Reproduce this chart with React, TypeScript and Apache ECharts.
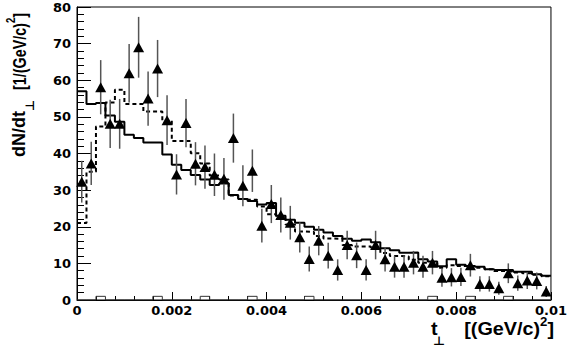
import React, { useEffect, useRef } from "react";
import * as echarts from "echarts";

const BIN_WIDTH = 0.0002;
const X_MIN = 0;
const X_MAX = 0.01;
const Y_MIN = 0;
const Y_MAX = 80;
const X_TICK_LABELS = ["0", "0.002", "0.004", "0.006", "0.008", "0.01"];

// measured points (triangles), one per bin of width 0.0002
const dataValues = [
  32.3, 37.3, 58.1, 48.1, 48.1, 61.9, 69.0, 55.0, 63.2, 49.1,
  34.3, 48.3, 37.2, 36.3, 34.2, 33.1, 44.2, 31.2, 35.3, 20.3,
  26.2, 23.2, 21.1, 17.1, 11.2, 16.2, 12.1, 8.2, 15.0, 12.2,
  8.2, 15.0, 11.1, 9.1, 9.1, 10.2, 9.1, 10.2, 6.1, 6.2,
  6.3, 9.5, 4.4, 4.4, 3.2, 7.3, 4.6, 5.3, 5.2, 2.3,
];
const dataErrors = [
  5.7, 5.9, 7.4, 6.6, 6.8, 8.0, 8.3, 7.4, 7.8, 6.8,
  5.5, 6.6, 5.9, 5.9, 5.8, 5.7, 6.7, 5.6, 5.8, 4.6,
  5.2, 4.8, 4.6, 4.1, 3.4, 4.0, 3.5, 2.9, 3.9, 3.5,
  2.9, 3.9, 3.3, 3.0, 3.0, 3.2, 3.0, 3.2, 2.5, 2.5,
  2.5, 3.1, 2.1, 2.1, 1.8, 2.7, 2.1, 2.3, 2.3, 1.5,
];
// solid histogram
const solidHist = [
  57.0, 53.5, 53.8, 50.4, 48.7, 45.1, 44.2, 43.0, 43.0, 39.7,
  36.9, 35.5, 34.1, 32.9, 31.4, 31.8, 28.7, 27.6, 27.0, 26.1,
  26.5, 23.0, 21.9, 21.1, 20.0, 19.2, 18.4, 17.5, 16.7, 16.2,
  16.5, 15.8, 14.1, 13.6, 12.9, 13.0, 11.1, 10.5, 9.2, 11.1,
  9.6, 9.3, 9.1, 8.4, 8.2, 8.2, 7.7, 7.7, 7.0, 6.6,
];
// dashed histogram
const dashedHist = [
  21.0, 35.0, 47.4, 53.9, 57.4, 53.5, 53.5, 51.5, 51.5, 49.0,
  43.4, 43.4, 40.1, 37.3, 34.0, 32.9, 28.5, 27.6, 27.4, 25.5,
  23.4, 22.1, 20.6, 18.7, 18.6, 17.5, 16.8, 16.7, 15.0, 14.6,
  14.6, 14.0, 12.8, 12.0, 11.9, 11.0, 10.2, 10.1, 8.8, 9.5,
  9.3, 9.2, 8.8, 8.4, 7.9, 7.8, 7.5, 7.3, 6.9, 6.5,
];
// small open-box histogram along the baseline
const smallHist = [
  0, 0, 1, 0, 0, 0, 0, 0, 1, 0,
  0, 0, 0, 1, 0, 0, 0, 0, 1, 0,
  0, 0, 0, 0, 1, 0, 0, 0, 0, 0,
  0, 0, 0, 0, 0, 0, 0, 1, 0, 0,
  0, 1, 0, 0, 0, 1, 0, 0, 0, 0,
];

const FONT = '"Liberation Sans", Arial, "DejaVu Sans", sans-serif';
const TICK_FONT = '"DejaVu Sans", sans-serif';

function stepData(vals: number[]) {
  const pts: number[][] = vals.map((v, i) => [i * BIN_WIDTH, v]);
  pts.push([vals.length * BIN_WIDTH, vals[vals.length - 1]]);
  return pts;
}

export default function App() {
  const ref = useRef<HTMLDivElement>(null);
  useEffect(() => {
    if (!ref.current) return;
    const chart = echarts.init(ref.current, null, { renderer: "svg" });
    const canvas = document.createElement("canvas");
    const ctx = canvas.getContext("2d")!;
    const tw = (t: string, s: number) => {
      ctx.font = `bold ${s}px "Liberation Sans"`;
      return ctx.measureText(t).width;
    };
    const TS = 18;
    const SS = 12;
    const SX = 1.1;
    const base = { fontFamily: FONT, fontWeight: "bold", fill: "#000", verticalAlign: "middle" };
    const rot = Math.PI / 2;

    const xr = 554;
    const xm = 329;
    const wBr = tw("]", TS) * SX;
    const w2 = tw("2", SS) * SX;

    // y title: bracket part spans from yTop down to yBracketEnd
    const yTop = 13;
    const yBracketEnd = 90;
    const wBrY = tw("]", TS);
    const w2Y = tw("2", SS);
    const wUnitY = tw("[1/(GeV/c)", TS);
    const sY = (yBracketEnd - yTop) / (wBrY + w2Y + wUnitY);
    const wdN = tw("dN/dt", TS);

    const graphics: any[] = [
      { type: "text", x: 431, y: xm, scaleX: SX, style: { ...base, text: "t", fontSize: TS, align: "left" } },
      { type: "text", x: 433, y: 341, scaleX: SX, style: { ...base, text: "⊥", fontSize: SS, align: "left" } },
      { type: "text", x: xr - wBr - w2, y: xm, scaleX: SX, style: { ...base, text: "[(GeV/c)", fontSize: TS, align: "right" } },
      { type: "text", x: xr - wBr, y: 322, scaleX: SX, style: { ...base, text: "2", fontSize: SS, align: "right" } },
      { type: "text", x: xr, y: xm, scaleX: SX, style: { ...base, text: "]", fontSize: TS, align: "right" } },

      { type: "text", x: 19, y: 157, rotation: rot, style: { ...base, text: "dN/dt", fontSize: TS, align: "left" } },
      { type: "text", x: 30, y: 157 - wdN, rotation: rot, style: { ...base, text: "⊥", fontSize: SS, align: "left" } },
      { type: "text", x: 19, y: yTop + (wBrY + w2Y) * sY, rotation: rot, scaleX: sY, style: { ...base, text: "[1/(GeV/c)", fontSize: TS, align: "right" } },
      { type: "text", x: 10.5, y: yTop + wBrY * sY, rotation: rot, scaleX: sY, style: { ...base, text: "2", fontSize: SS, align: "right" } },
      { type: "text", x: 19, y: yTop, rotation: rot, scaleX: sY, style: { ...base, text: "]", fontSize: TS, align: "right" } },
    ];

    const option: any = {
      animation: false,
      backgroundColor: "#fff",
      grid: {
        left: 77,
        top: 7,
        width: 478,
        height: 293,
        show: true,
        borderColor: "#000",
        borderWidth: 1,
        backgroundColor: "transparent",
      },
      xAxis: {
        type: "value",
        min: X_MIN,
        max: X_MAX,
        interval: 0.002,
        axisLine: { show: true, onZero: false, lineStyle: { color: "#000", width: 1 } },
        axisTick: { show: true, inside: true, length: 8, lineStyle: { color: "#000", width: 1 } },
        minorTick: { show: true, splitNumber: 5, length: 4, lineStyle: { color: "#000", width: 1 } },
        splitLine: { show: false },
        minorSplitLine: { show: false },
        axisLabel: {
          color: "#000",
          fontWeight: "bold",
          fontSize: 13,
          fontFamily: TICK_FONT,
          margin: 4,
          formatter: (v: number) => X_TICK_LABELS[Math.round(v / 0.002)] ?? "",
        },
      },
      yAxis: {
        type: "value",
        min: Y_MIN,
        max: Y_MAX,
        interval: 10,
        axisLine: { show: true, onZero: false, lineStyle: { color: "#000", width: 1 } },
        axisTick: { show: true, inside: true, length: 14, lineStyle: { color: "#000", width: 1 } },
        minorTick: { show: true, splitNumber: 5, length: 7, lineStyle: { color: "#000", width: 1 } },
        splitLine: { show: false },
        axisLabel: {
          color: "#000",
          fontWeight: "bold",
          fontSize: 13,
          fontFamily: TICK_FONT,
          margin: 6,
        },
      },
      graphic: graphics,
      series: [
        {
          type: "line",
          data: stepData(smallHist),
          step: "end",
          showSymbol: false,
          symbol: "none",
          lineStyle: { color: "#333", width: 1 },
          z: 2,
        },
        {
          type: "line",
          data: stepData(dashedHist),
          step: "end",
          showSymbol: false,
          symbol: "none",
          lineStyle: { color: "#000", width: 2, type: [4, 3] },
          z: 3,
        },
        {
          type: "line",
          data: stepData(solidHist),
          step: "end",
          showSymbol: false,
          symbol: "none",
          lineStyle: { color: "#000", width: 2 },
          z: 3,
        },
        {
          type: "custom",
          data: dataValues.map((v, i) => [(i + 0.5) * BIN_WIDTH, v - dataErrors[i], v + dataErrors[i]]),
          encode: { x: 0, y: [1, 2] },
          renderItem: (_p: any, api: any) => {
            const x = api.value(0);
            const lo = api.coord([x, api.value(1)]);
            const hi = api.coord([x, api.value(2)]);
            return {
              type: "line",
              shape: { x1: lo[0], y1: lo[1], x2: hi[0], y2: hi[1] },
              style: { stroke: "#555", lineWidth: 1.5 },
            };
          },
          z: 4,
        },
        {
          type: "scatter",
          data: dataValues.map((v, i) => [(i + 0.5) * BIN_WIDTH, v]),
          symbol: "triangle",
          symbolSize: [11, 10],
          itemStyle: { color: "#000", opacity: 1 },
          z: 5,
        },
      ],
    };
    chart.setOption(option);
    return () => chart.dispose();
  }, []);
  return (
    <div
      ref={ref}
      style={{ position: "fixed", left: 0, top: 0, width: 570, height: 352, background: "#fff" }}
    />
  );
}
